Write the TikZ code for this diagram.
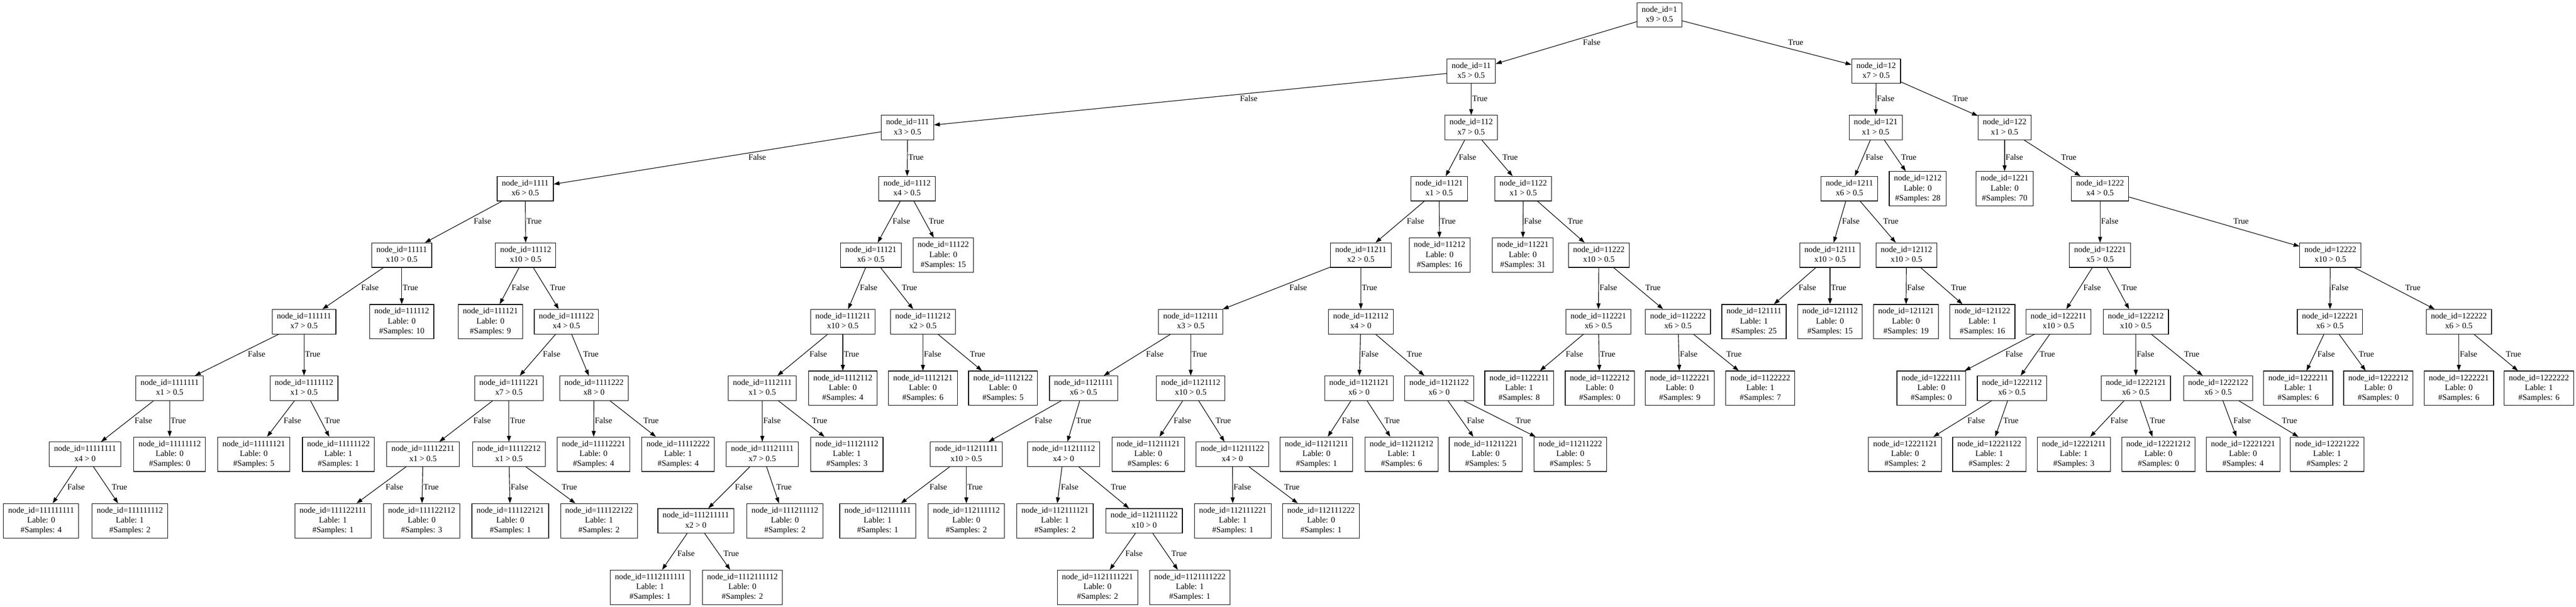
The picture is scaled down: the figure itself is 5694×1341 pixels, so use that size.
\documentclass[tikz,border=0pt]{standalone}
\usepackage{fontspec}
\setmainfont{Liberation Serif}
\usetikzlibrary{arrows.meta,calc}
\newcommand{\treefont}{\fontsize{18.23}{21.87}\selectfont}
\tikzset{splitbox/.style={draw,rectangle,line width=1.3pt,align=center,font=\treefont,inner xsep=10.3pt,inner ysep=5.2pt},
    leafbox/.style={splitbox},
    arrowline/.style={-{Triangle[length=13pt,width=9pt]},line width=1.3pt},
    branchtext/.style={anchor=west,inner sep=0,font=\treefont}
}
\newcommand{\splitnode}[5]
{
% args: (name, x, y, node id, test)
    \node [splitbox] (#1) at (#2,#3) {\strut node\_id=#4\\\strut #5};
}
\newcommand{\leafnode}[6]
{
% args: (name, x, y, node id, label, samples)
    \node [leafbox] (#1) at (#2,#3) {\strut node\_id=#4\\\strut Lable: #5\\\strut \#Samples: #6};
}
\newcommand{\branch}[3]
{
% args: (parent, child, text); text sits right of the line, halfway down
    \draw [arrowline] (#1) -- (#2);
    \path let \p1=(#1), \p2=(#2), \n1={11*(abs(\x2-\x1)/max(abs(\y2-\y1),1))} in
        ($(#1)!0.5!(#2)$) node [branchtext,xshift={\n1+2pt}] {\strut #3};
}
\begin{document}
\begin{tikzpicture}[x=1pt,y=-1pt]
\useasboundingbox (0,0) rectangle (5694,1341);

% rank 1-3
\splitnode{n1}{3668}{33}{1}{x9 > 0.5}
\splitnode{n11}{3252}{157}{11}{x5 > 0.5}
\splitnode{n12}{4147}{157}{12}{x7 > 0.5}
\splitnode{n111}{2006}{282}{111}{x3 > 0.5}
\splitnode{n112}{3252}{282}{112}{x7 > 0.5}
\splitnode{n121}{4146}{282}{121}{x1 > 0.5}
\splitnode{n122}{4431}{282}{122}{x1 > 0.5}

% rank 4
\splitnode{n1111}{1161}{417}{1111}{x6 > 0.5}
\splitnode{n1112}{2005}{417}{1112}{x4 > 0.5}
\splitnode{n1121}{3181}{417}{1121}{x1 > 0.5}
\splitnode{n1122}{3367}{417}{1122}{x1 > 0.5}
\splitnode{n1211}{4088}{417}{1211}{x6 > 0.5}
\leafnode{n1212}{4239}{417}{1212}{0}{28}
\leafnode{n1221}{4431}{417}{1221}{0}{70}
\splitnode{n1222}{4642}{417}{1222}{x4 > 0.5}

% rank 5
\splitnode{n11111}{888}{564}{11111}{x10 > 0.5}
\splitnode{n11112}{1162}{564}{11112}{x10 > 0.5}
\splitnode{n11121}{1925}{564}{11121}{x6 > 0.5}
\leafnode{n11122}{2085}{564}{11122}{0}{15}
\splitnode{n11211}{3008}{564}{11211}{x2 > 0.5}
\leafnode{n11212}{3182}{564}{11212}{0}{16}
\leafnode{n11221}{3366}{564}{11221}{0}{31}
\splitnode{n11222}{3534}{564}{11222}{x10 > 0.5}
\splitnode{n12111}{4045}{564}{12111}{x10 > 0.5}
\splitnode{n12112}{4214}{564}{12112}{x10 > 0.5}
\splitnode{n12221}{4642}{564}{12221}{x5 > 0.5}
\splitnode{n12222}{5151}{564}{12222}{x10 > 0.5}

% rank 6
\splitnode{n111111}{672}{711}{111111}{x7 > 0.5}
\leafnode{n111112}{888}{711}{111112}{0}{10}
\leafnode{n111121}{1084}{711}{111121}{0}{9}
\splitnode{n111122}{1252}{711}{111122}{x4 > 0.5}
\splitnode{n111211}{1863}{711}{111211}{x10 > 0.5}
\splitnode{n111212}{2040}{711}{111212}{x2 > 0.5}
\splitnode{n112111}{2632}{711}{112111}{x3 > 0.5}
\splitnode{n112112}{3008}{711}{112112}{x4 > 0}
\splitnode{n112221}{3533}{711}{112221}{x6 > 0.5}
\splitnode{n112222}{3709}{711}{112222}{x6 > 0.5}
\leafnode{n121111}{3877}{711}{121111}{1}{25}
\leafnode{n121112}{4045}{711}{121112}{0}{15}
\leafnode{n121121}{4213}{711}{121121}{0}{19}
\leafnode{n121122}{4382}{711}{121122}{1}{16}
\splitnode{n122211}{4550}{711}{122211}{x10 > 0.5}
\splitnode{n122212}{4721}{711}{122212}{x10 > 0.5}
\splitnode{n122221}{5150}{711}{122221}{x6 > 0.5}
\splitnode{n122222}{5435}{711}{122222}{x6 > 0.5}

% rank 7
\splitnode{n1111111}{375}{858}{1111111}{x1 > 0.5}
\splitnode{n1111112}{672}{858}{1111112}{x1 > 0.5}
\splitnode{n1111221}{1125}{858}{1111221}{x7 > 0.5}
\splitnode{n1111222}{1313}{858}{1111222}{x8 > 0}
\splitnode{n1112111}{1685}{858}{1112111}{x1 > 0.5}
\leafnode{n1112112}{1863}{858}{1112112}{0}{4}
\leafnode{n1112121}{2040}{858}{1112121}{0}{6}
\leafnode{n1112122}{2217}{858}{1112122}{0}{5}
\splitnode{n1121111}{2395}{858}{1121111}{x6 > 0.5}
\splitnode{n1121112}{2632}{858}{1121112}{x10 > 0.5}
\splitnode{n1121121}{3004}{858}{1121121}{x6 > 0}
\splitnode{n1121122}{3181}{858}{1121122}{x6 > 0}
\leafnode{n1122211}{3358}{858}{1122211}{1}{8}
\leafnode{n1122212}{3536}{858}{1122212}{0}{0}
\leafnode{n1122221}{3713}{858}{1122221}{0}{9}
\leafnode{n1122222}{3891}{858}{1122222}{1}{7}
\leafnode{n1222111}{4269}{858}{1222111}{0}{0}
\splitnode{n1222112}{4447}{858}{1222112}{x6 > 0.5}
\splitnode{n1222121}{4721}{858}{1222121}{x6 > 0.5}
\splitnode{n1222122}{4903}{858}{1222122}{x6 > 0.5}
\leafnode{n1222211}{5080}{858}{1222211}{1}{6}
\leafnode{n1222212}{5257}{858}{1222212}{0}{0}
\leafnode{n1222221}{5435}{858}{1222221}{0}{6}
\leafnode{n1222222}{5612}{858}{1222222}{1}{6}

% rank 8
\splitnode{n11111111}{188}{1004}{11111111}{x4 > 0}
\leafnode{n11111112}{375}{1004}{11111112}{0}{0}
\leafnode{n11111121}{561}{1004}{11111121}{0}{5}
\leafnode{n11111122}{748}{1004}{11111122}{1}{1}
\splitnode{n11112211}{935}{1004}{11112211}{x1 > 0.5}
\splitnode{n11112212}{1125}{1004}{11112212}{x1 > 0.5}
\leafnode{n11112221}{1312}{1004}{11112221}{0}{4}
\leafnode{n11112222}{1499}{1004}{11112222}{1}{4}
\splitnode{n11121111}{1685}{1004}{11121111}{x7 > 0.5}
\leafnode{n11121112}{1872}{1004}{11121112}{1}{3}
\splitnode{n11211111}{2136}{1004}{11211111}{x10 > 0.5}
\splitnode{n11211112}{2351}{1004}{11211112}{x4 > 0}
\leafnode{n11211121}{2538}{1004}{11211121}{0}{6}
\splitnode{n11211122}{2724}{1004}{11211122}{x4 > 0}
\leafnode{n11211211}{2910}{1004}{11211211}{0}{1}
\leafnode{n11211212}{3098}{1004}{11211212}{1}{6}
\leafnode{n11211221}{3284}{1004}{11211221}{0}{5}
\leafnode{n11211222}{3471}{1004}{11211222}{0}{5}
\leafnode{n12221121}{4211}{1004}{12221121}{0}{2}
\leafnode{n12221122}{4397}{1004}{12221122}{1}{2}
\leafnode{n12221211}{4584}{1004}{12221211}{1}{3}
\leafnode{n12221212}{4771}{1004}{12221212}{0}{0}
\leafnode{n12221221}{4958}{1004}{12221221}{0}{4}
\leafnode{n12221222}{5144}{1004}{12221222}{1}{2}

% rank 9
\leafnode{n111111111}{91}{1151}{111111111}{0}{4}
\leafnode{n111111112}{287}{1151}{111111112}{1}{2}
\leafnode{n111122111}{736}{1151}{111122111}{1}{1}
\leafnode{n111122112}{932}{1151}{111122112}{0}{3}
\leafnode{n111122121}{1128}{1151}{111122121}{0}{1}
\leafnode{n111122122}{1324}{1151}{111122122}{1}{2}
\splitnode{n111211111}{1538}{1151}{111211111}{x2 > 0}
\leafnode{n111211112}{1735}{1151}{111211112}{0}{2}
\leafnode{n112111111}{1940}{1151}{112111111}{1}{1}
\leafnode{n112111112}{2136}{1151}{112111112}{0}{2}
\leafnode{n112111121}{2332}{1151}{112111121}{1}{2}
\splitnode{n112111122}{2529}{1151}{112111122}{x10 > 0}
\leafnode{n112111221}{2725}{1151}{112111221}{1}{1}
\leafnode{n112111222}{2920}{1151}{112111222}{0}{1}

% rank 10
\leafnode{n1112111111}{1437}{1298}{1112111111}{1}{1}
\leafnode{n1112111112}{1641}{1298}{1112111112}{0}{2}
\leafnode{n1121111221}{2426}{1298}{1121111221}{0}{2}
\leafnode{n1121111222}{2630}{1298}{1121111222}{1}{1}

% children of id are id1 (False) and id2 (True)
\foreach \id in {1,11,111,1111,11111,111111,1111111,11111111,1111112,
    11112,111122,1111221,11112211,11112212,1111222,
    1112,11121,111211,1112111,11121111,111211111,111212,
    112,1121,11211,112111,1121111,11211111,11211112,112111122,1121112,11211122,
    112112,1121121,1121122,1122,11222,112221,112222,
    12,121,1211,12111,12112,122,1222,12221,122211,1222112,122212,1222121,1222122,
    12222,122221,122222}
{
    \branch{n\id}{n\id1}{False}
    \branch{n\id}{n\id2}{True}
}

\end{tikzpicture}
\end{document}
